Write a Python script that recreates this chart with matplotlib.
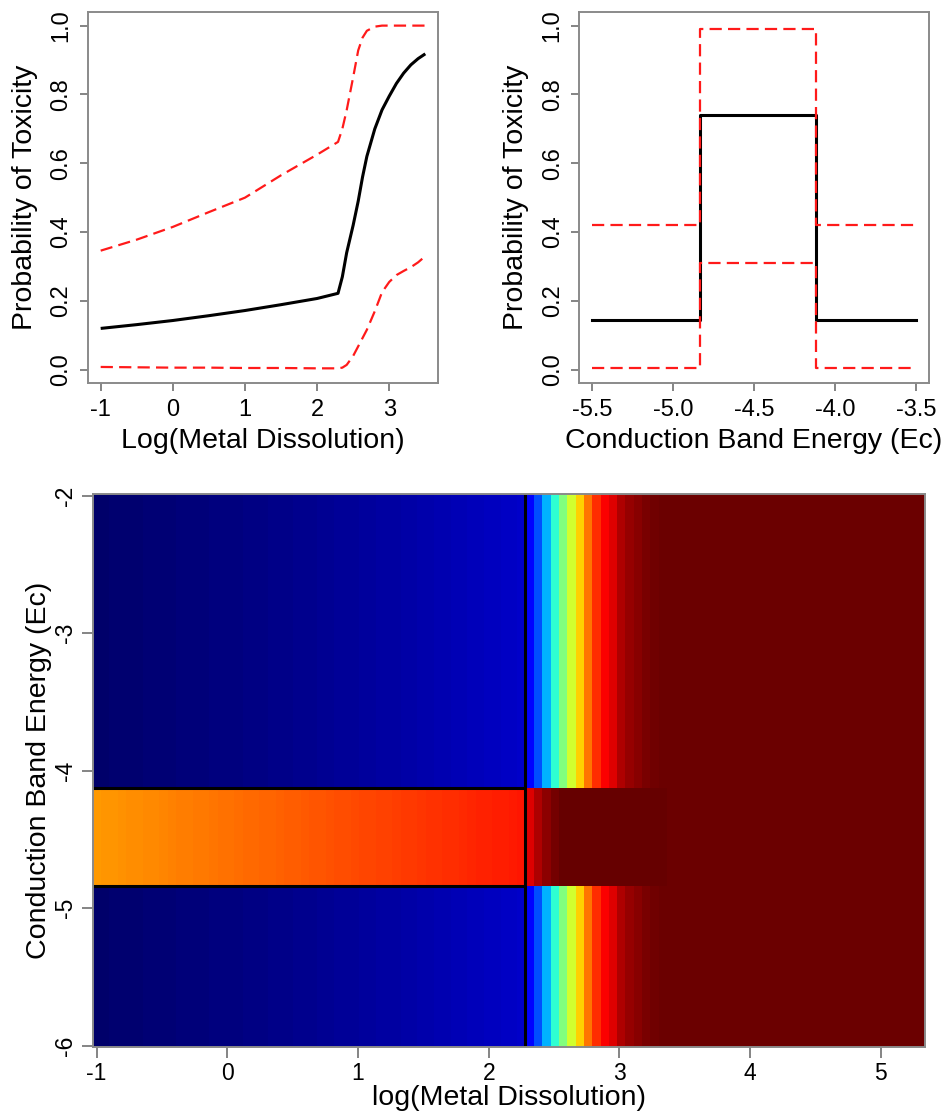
import numpy as np
import matplotlib
matplotlib.use("Agg")
import matplotlib.pyplot as plt
from matplotlib.colors import LinearSegmentedColormap

plt.rcParams['font.family'] = ['Liberation Sans', 'DejaVu Sans']
plt.rcParams['axes.unicode_minus'] = False

# --- probability of toxicity vs log(metal dissolution), mean and 95% band ---
log_md = [-1.0, -0.5, 0.0, 0.5, 1.0, 1.5, 2.0, 2.29, 2.35, 2.41, 2.5, 2.57,
          2.63, 2.69, 2.8, 2.9, 3.0, 3.1, 3.2, 3.3, 3.4, 3.5]
p_md_mean = [0.120, 0.131, 0.143, 0.157, 0.172, 0.189, 0.207, 0.222, 0.27, 0.34,
             0.42, 0.49, 0.56, 0.62, 0.70, 0.755, 0.795, 0.832, 0.862, 0.886,
             0.904, 0.918]
p_md_upper = [0.346, 0.378, 0.415, 0.458, 0.500, 0.565, 0.625, 0.662, 0.70, 0.754,
              0.85, 0.928, 0.965, 0.985, 0.997, 1.0, 1.0, 1.0, 1.0, 1.0, 1.0, 1.0]
p_md_lower = [0.008, 0.007, 0.006, 0.006, 0.005, 0.005, 0.004, 0.004, 0.006, 0.014,
              0.040, 0.068, 0.092, 0.116, 0.170, 0.225, 0.255, 0.275, 0.287, 0.298,
              0.312, 0.330]

# --- probability of toxicity vs conduction band energy (step function) ---
ec_steps = [-5.5, -4.83, -4.12, -3.5]
p_ec_mean = [0.145, 0.74, 0.145, 0.145]
p_ec_upper = [0.42, 0.99, 0.42, 0.42]
p_ec_lower = [0.006, 0.31, 0.006, 0.006]

# --- surface over (log metal dissolution, Ec) ---
md_break = 2.28          # dissolution threshold
band_lo, band_hi = -4.84, -4.13
ec_range = (-6.01, -1.99)
md_range = (-1.03, 5.34)

tox_outside = [
    0.010, 0.011, 0.012, 0.013, 0.014, 0.015, 0.016, 0.017, 0.018, 0.019,
    0.020, 0.021, 0.022, 0.023, 0.024, 0.025, 0.026, 0.027, 0.029, 0.030,
    0.031, 0.032, 0.034, 0.035, 0.036, 0.038, 0.039, 0.040, 0.042, 0.043,
    0.045, 0.046, 0.048, 0.049, 0.051, 0.052, 0.054, 0.056, 0.057, 0.059,
    0.061, 0.063, 0.065, 0.067, 0.069, 0.071, 0.073, 0.075, 0.077, 0.079,
    0.081, 0.083,
    0.125, 0.200, 0.300, 0.420, 0.500, 0.580, 0.670, 0.760, 0.830, 0.875,
    0.900, 0.940, 0.960, 0.972, 0.984, 0.990,
    0.993, 0.993, 0.993, 0.993, 0.993, 0.993, 0.993, 0.993,
    0.993, 0.993, 0.993, 0.993, 0.993, 0.993, 0.993, 0.993,
    0.993, 0.993, 0.993, 0.993, 0.993, 0.993, 0.993, 0.993,
    0.993, 0.993, 0.993, 0.993, 0.993, 0.993, 0.993, 0.993,
]
tox_band = [
    0.725, 0.727, 0.730, 0.732, 0.735, 0.737, 0.740, 0.742, 0.745, 0.747,
    0.750, 0.752, 0.755, 0.757, 0.760, 0.762, 0.765, 0.767, 0.770, 0.772,
    0.775, 0.777, 0.780, 0.782, 0.785, 0.787, 0.790, 0.792, 0.795, 0.797,
    0.800, 0.802, 0.805, 0.807, 0.810, 0.812, 0.815, 0.817, 0.820, 0.822,
    0.825, 0.827, 0.830, 0.832, 0.835, 0.837, 0.840, 0.842, 0.845, 0.847,
    0.850, 0.852,
    0.900, 0.940, 0.965, 0.985,
    1.0, 1.0, 1.0, 1.0, 1.0, 1.0, 1.0, 1.0, 1.0, 1.0, 1.0, 1.0, 1.0,
    0.993, 0.993, 0.993, 0.993, 0.993, 0.993, 0.993,
    0.993, 0.993, 0.993, 0.993, 0.993, 0.993, 0.993, 0.993,
    0.993, 0.993, 0.993, 0.993, 0.993, 0.993, 0.993, 0.993,
    0.993, 0.993, 0.993, 0.993, 0.993, 0.993, 0.993, 0.993,
]

jet = LinearSegmentedColormap.from_list(
    "jet_dark", ['#000060', '#0000FF', '#0080FF', '#00FFFF', '#80FF80',
                 '#FFFF00', '#FF8000', '#FF0000', '#660000'])

box_col = '#8a8a8a'
red_dash = (0, (5.5, 2.8))

fig = plt.figure(figsize=(9.46, 11.18), dpi=100)


def style_box(ax, size):
    for s in ax.spines.values():
        s.set_color(box_col)
        s.set_linewidth(1.4)
    ax.tick_params(length=6, width=1.2, color='#707070', labelsize=size, pad=5)


# top left
ax1 = fig.add_axes([0.0927, 0.657, 0.3706, 0.3324])
ax1.plot(log_md, p_md_mean, color='black', lw=2.2, solid_capstyle='butt')
ax1.plot(log_md, p_md_upper, color='#FF1A1A', lw=1.6, ls=red_dash)
ax1.plot(log_md, p_md_lower, color='#FF1A1A', lw=1.6, ls=red_dash)
ax1.set_xlim(-1.18, 3.68)
ax1.set_ylim(-0.04, 1.04)
ax1.set_xticks([-1, 0, 1, 2, 3])
ax1.set_xticklabels(['-1', '0', '1', '2', '3'])
ax1.set_yticks([0, 0.2, 0.4, 0.6, 0.8, 1.0])
ax1.set_yticklabels(['0.0', '0.2', '0.4', '0.6', '0.8', '1.0'], rotation=90, va='center')
ax1.set_xlabel('Log(Metal Dissolution)', fontsize=20.5, labelpad=5)
ax1.set_ylabel('Probability of Toxicity', fontsize=20.5, labelpad=9)
style_box(ax1, 17)

# top right
ax2 = fig.add_axes([0.612, 0.657, 0.370, 0.3324])
ax2.plot(ec_steps, p_ec_mean, color='black', lw=2.2, drawstyle='steps-post')
ax2.plot(ec_steps, p_ec_upper, color='#FF1A1A', lw=1.6, ls=red_dash, drawstyle='steps-post')
ax2.plot(ec_steps, p_ec_lower, color='#FF1A1A', lw=1.6, ls=red_dash, drawstyle='steps-post')
ax2.set_xlim(-5.58, -3.42)
ax2.set_ylim(-0.04, 1.04)
ax2.set_xticks([-5.5, -5.0, -4.5, -4.0, -3.5])
ax2.set_xticklabels(['-5.5', '-5.0', '-4.5', '-4.0', '-3.5'])
ax2.set_yticks([0, 0.2, 0.4, 0.6, 0.8, 1.0])
ax2.set_yticklabels(['0.0', '0.2', '0.4', '0.6', '0.8', '1.0'], rotation=90, va='center')
ax2.set_xlabel('Conduction Band Energy (Ec)', fontsize=20.5, labelpad=5)
ax2.set_ylabel('Probability of Toxicity', fontsize=20.5, labelpad=9)
style_box(ax2, 17)

# bottom: surface
ax3 = fig.add_axes([0.098, 0.0635, 0.880, 0.4945])
md_edges = np.linspace(md_range[0], md_range[1], len(tox_outside) + 1)
ec_edges = [ec_range[0], band_lo, band_hi, ec_range[1]]
surface = np.array([tox_outside, tox_band, tox_outside])
ax3.pcolormesh(md_edges, ec_edges, surface, cmap=jet, vmin=0, vmax=1,
               shading='flat', antialiased=False)
ax3.axvline(md_break, color='black', lw=2.2)
ax3.hlines([band_lo, band_hi], md_range[0], md_break, color='black', lw=2.2)
ax3.set_xlim(*md_range)
ax3.set_ylim(*ec_range)
ax3.set_xticks([-1, 0, 1, 2, 3, 4, 5])
ax3.set_xticklabels(['-1', '0', '1', '2', '3', '4', '5'])
ax3.set_yticks([-6, -5, -4, -3, -2])
ax3.set_yticklabels(['-6', '-5', '-4', '-3', '-2'], rotation=90, va='center')
ax3.set_xlabel('log(Metal Dissolution)', fontsize=20.5, labelpad=0)
ax3.set_ylabel('Conduction Band Energy (Ec)', fontsize=20.5, labelpad=2)
style_box(ax3, 16.5)
ax3.tick_params(length=8, pad=3)

fig.savefig('out.png', dpi=100)
